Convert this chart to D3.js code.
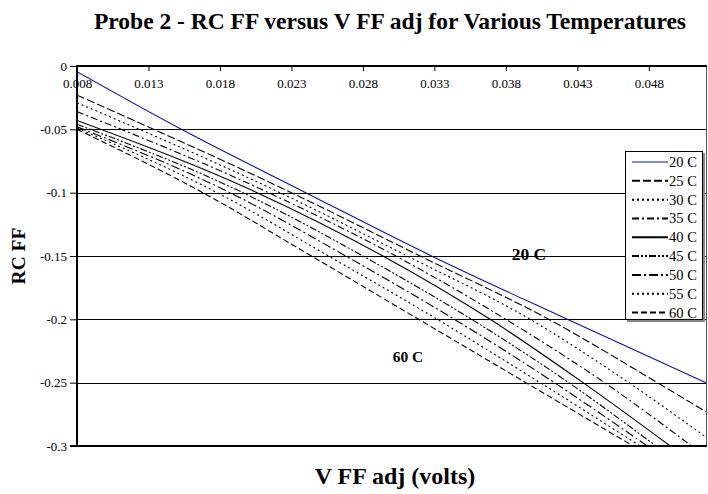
<!DOCTYPE html>
<html>
<head>
<meta charset="utf-8">
<script src="https://cdn.jsdelivr.net/npm/d3@7"></script>
<style>
  html, body { margin: 0; padding: 0; background: #fff; }
  svg { display: block; font-family: "Liberation Serif", "Times New Roman", serif; }
</style>
</head>
<body>
<svg id="chart" width="708" height="494"></svg>
<script>
// Temperatures shown
const temperatures = ["20 C", "25 C", "30 C", "35 C", "40 C", "45 C", "50 C", "55 C", "60 C"];

// V FF adj (volts) and RC FF pairs for each temperature
const v20 = [0.008, 0.0153, 0.0240, 0.0328, 0.0423, 0.052];
const rc20 = [-0.0045, -0.05, -0.10, -0.15, -0.20, -0.25];
const v25 = [0.008, 0.0230, 0.0320, 0.0410, 0.0486, 0.052];
const rc25 = [-0.023, -0.10, -0.15, -0.20, -0.25, -0.273];
const v30 = [0.008, 0.0222, 0.0311, 0.0397, 0.0466, 0.052];
const rc30 = [-0.029, -0.10, -0.15, -0.20, -0.25, -0.293];
const v35 = [0.008, 0.0214, 0.0303, 0.0380, 0.0449, 0.0510];
const rc35 = [-0.036, -0.10, -0.15, -0.20, -0.25, -0.30];
const v40 = [0.008, 0.0206, 0.0294, 0.0369, 0.0434, 0.0495];
const rc40 = [-0.043, -0.10, -0.15, -0.20, -0.25, -0.30];
const v45 = [0.008, 0.0196, 0.0280, 0.0356, 0.0424, 0.0485];
const rc45 = [-0.046, -0.10, -0.15, -0.20, -0.25, -0.30];
const v50 = [0.008, 0.0187, 0.0268, 0.0344, 0.0414, 0.0479];
const rc50 = [-0.048, -0.10, -0.15, -0.20, -0.25, -0.30];
const v55 = [0.008, 0.0178, 0.0256, 0.0332, 0.0404, 0.0474];
const rc55 = [-0.049, -0.10, -0.15, -0.20, -0.25, -0.30];
const v60 = [0.008, 0.0168, 0.0244, 0.0319, 0.0394, 0.0469];
const rc60 = [-0.050, -0.10, -0.15, -0.20, -0.25, -0.30];
const seriesX = [v20, v25, v30, v35, v40, v45, v50, v55, v60];
const seriesY = [rc20, rc25, rc30, rc35, rc40, rc45, rc50, rc55, rc60];

// Axis ticks
const xTicks = [0.008, 0.013, 0.018, 0.023, 0.028, 0.033, 0.038, 0.043, 0.048];
const xTickLabels = ["0.008", "0.013", "0.018", "0.023", "0.028", "0.033", "0.038", "0.043", "0.048"];
const yTicks = [0, -0.05, -0.1, -0.15, -0.2, -0.25, -0.3];
const yTickLabels = ["0", "-0.05", "-0.1", "-0.15", "-0.2", "-0.25", "-0.3"];

// Line styles per temperature
const lineColors = ["#10109a", "#000", "#000", "#000", "#000", "#000", "#000", "#000", "#000"];
const lineDashes = [null, "8,3", "2,3", "7,3,2,3", null, "7,2,2,2,2,2", "9,3,2,3", "2,3", "6,3"];

const svg = d3.select("#chart");
const plotL = 77, plotR = 706, plotT = 66, plotB = 446;

const x = d3.scaleLinear().domain([0.008, 0.052]).range([plotL, plotR]);
const y = d3.scaleLinear().domain([0, -0.3]).range([plotT, plotB]);

// Title
svg.append("text")
  .attr("x", 390).attr("y", 29)
  .attr("text-anchor", "middle")
  .attr("font-weight", "bold").attr("font-size", 23.5)
  .text("Probe 2 - RC FF versus V FF adj for Various Temperatures");

// Horizontal gridlines
svg.append("g")
  .selectAll("line")
  .data(yTicks.filter(v => v !== 0 && v !== -0.3))
  .join("line")
  .attr("x1", plotL).attr("x2", plotR)
  .attr("y1", d => Math.round(y(d)) + 0.5).attr("y2", d => Math.round(y(d)) + 0.5)
  .attr("stroke", "#000").attr("stroke-width", 1);

// Right border of plot area
svg.append("line")
  .attr("x1", plotR + 0.5).attr("x2", plotR + 0.5)
  .attr("y1", plotT).attr("y2", plotB)
  .attr("stroke", "#555").attr("stroke-width", 1);

// Series lines
svg.append("clipPath").attr("id", "plotClip")
  .append("rect").attr("x", plotL).attr("y", plotT).attr("width", plotR - plotL + 1).attr("height", plotB - plotT);

const line = d3.line().x(d => x(d[0])).y(d => y(d[1])).curve(d3.curveMonotoneX);
const seriesPoints = seriesX.map((xs, s) => xs.map((v, i) => [v, seriesY[s][i]]));

svg.append("g").attr("clip-path", "url(#plotClip)")
  .selectAll("path")
  .data(seriesPoints)
  .join("path")
  .attr("d", d => line(d))
  .attr("fill", "none")
  .attr("stroke", (d, i) => lineColors[i])
  .attr("stroke-width", 1.1)
  .attr("stroke-dasharray", (d, i) => lineDashes[i]);

// Y axis (left) with outward ticks
const yAxis = d3.axisLeft(y).tickValues(yTicks).tickSize(7).tickPadding(3)
  .tickFormat((d, i) => yTickLabels[i]);
const gy = svg.append("g").attr("transform", `translate(${plotL},0)`).call(yAxis);
gy.select(".domain").remove();
gy.selectAll("line").attr("stroke", "#000");
gy.selectAll("text").attr("font-size", 13).attr("font-family", "Liberation Serif, serif").attr("fill", "#000");
svg.append("line").attr("x1", plotL).attr("x2", plotL).attr("y1", plotT - 1).attr("y2", plotB + 1)
  .attr("stroke", "#000").attr("stroke-width", 2);

// X axis along the zero line, labels inside the plot
const xAxis = d3.axisBottom(x).tickValues(xTicks).tickSize(5).tickPadding(8)
  .tickFormat((d, i) => xTickLabels[i]);
const gx = svg.append("g").attr("transform", `translate(0,${plotT})`).call(xAxis);
gx.select(".domain").remove();
gx.selectAll("line").attr("stroke", "#000");
gx.selectAll("text").attr("font-size", 13).attr("font-family", "Liberation Serif, serif").attr("fill", "#000");
svg.append("line").attr("x1", plotL).attr("x2", plotR + 1).attr("y1", plotT).attr("y2", plotT)
  .attr("stroke", "#000").attr("stroke-width", 2.2);

// Bottom edge at -0.3
svg.append("line").attr("x1", plotL - 7).attr("x2", plotR + 1).attr("y1", plotB).attr("y2", plotB)
  .attr("stroke", "#000").attr("stroke-width", 2);

// Axis titles
svg.append("text")
  .attr("x", 395).attr("y", 484)
  .attr("text-anchor", "middle")
  .attr("font-weight", "bold").attr("font-size", 24)
  .text("V FF adj (volts)");
svg.append("text")
  .attr("transform", "translate(25,256) rotate(-90)")
  .attr("text-anchor", "middle")
  .attr("font-weight", "bold").attr("font-size", 19.5)
  .text("RC FF");

// Inline labels
svg.append("text").attr("x", 529).attr("y", 260).attr("text-anchor", "middle")
  .attr("font-weight", "bold").attr("font-size", 17.5).text("20 C");
svg.append("text").attr("x", 408).attr("y", 362).attr("text-anchor", "middle")
  .attr("font-weight", "bold").attr("font-size", 15.5).text("60 C");

// Legend
const lg = svg.append("g");
lg.append("rect").attr("x", 627).attr("y", 153).attr("width", 78).attr("height", 169)
  .attr("fill", "#888");
lg.append("rect").attr("x", 625.5).attr("y", 151.5).attr("width", 77).attr("height", 168)
  .attr("fill", "#fff").attr("stroke", "#000").attr("stroke-width", 1);
const rowY = d3.scaleLinear().domain([0, temperatures.length - 1]).range([162, 312.5]);
const items = lg.selectAll("g.item").data(temperatures).join("g").attr("class", "item")
  .attr("transform", (d, i) => `translate(0,${rowY(i)})`);
items.append("line").attr("x1", 632).attr("x2", 668).attr("y1", 0).attr("y2", 0)
  .attr("stroke", (d, i) => lineColors[i])
  .attr("stroke-width", (d, i) => i === 0 ? 1.1 : 2)
  .attr("stroke-dasharray", (d, i) => lineDashes[i]);
items.append("text").attr("x", 669).attr("y", 5)
  .attr("font-size", 14.5).text(d => d);
</script>
</body>
</html>
